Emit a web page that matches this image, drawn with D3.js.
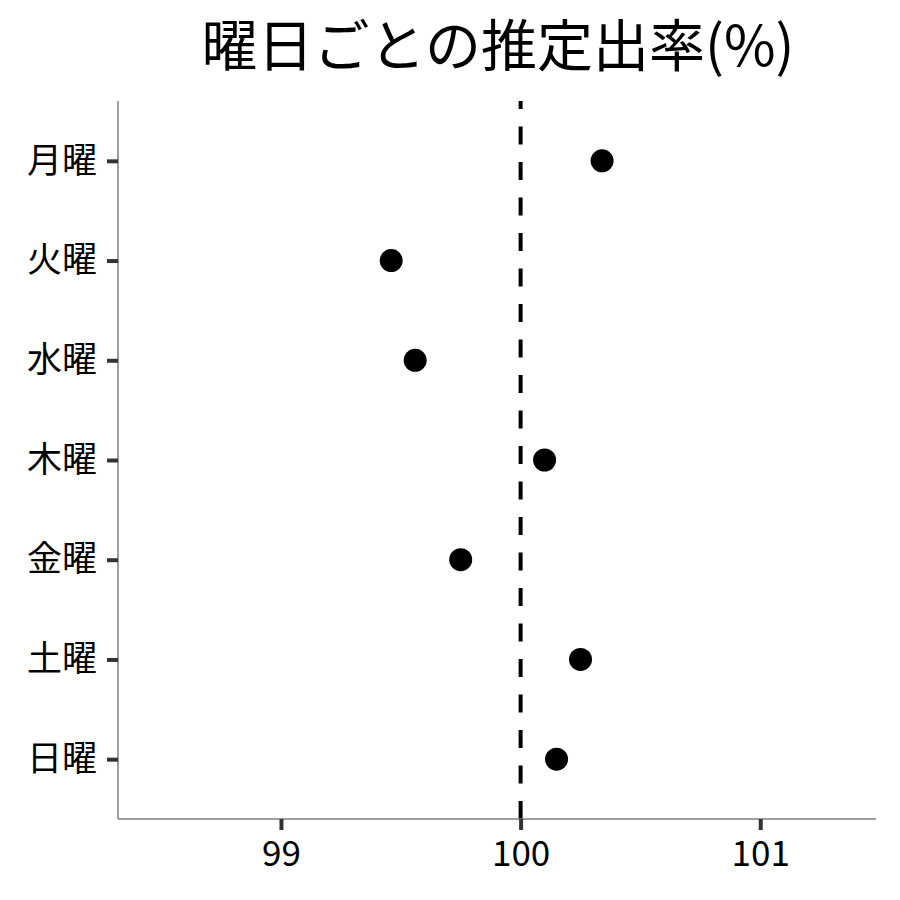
<!DOCTYPE html>
<html>
<head>
<meta charset="utf-8">
<script src="https://cdn.jsdelivr.net/npm/d3@7"></script>
<style>
  body { margin: 0; background: #fff; }
  text { font-family: "Noto Sans CJK JP", "Noto Sans", sans-serif; }
</style>
</head>
<body>
<div id="chart"></div>
<script>
// data
const days = ["月曜", "火曜", "水曜", "木曜", "金曜", "土曜", "日曜"];
const rates = [100.34, 99.46, 99.56, 100.10, 99.75, 100.25, 100.15];
const xTicks = [99, 100, 101];
const refValue = 100;
const title = "曜日ごとの推定出率(%)";

const width = 900, height = 900;
const margin = {top: 101, right: 24, bottom: 81, left: 118};

const svg = d3.select("#chart").append("svg")
    .attr("width", width)
    .attr("height", height);

const x = d3.scaleLinear()
    .domain([98.32, 101.483])
    .range([margin.left, width - margin.right]);

const y = d3.scalePoint()
    .domain(days)
    .range([margin.top, height - margin.bottom])
    .padding(0.6);

// title
svg.append("text")
    .attr("x", 498)
    .attr("y", 66)
    .attr("text-anchor", "middle")
    .style("font-size", "56px")
    .style("fill", "#000")
    .text(title);

// reference line
svg.append("line")
    .attr("x1", x(refValue))
    .attr("x2", x(refValue))
    .attr("y1", margin.top)
    .attr("y2", height - margin.bottom)
    .attr("stroke", "#000")
    .attr("stroke-width", 4)
    .attr("stroke-dasharray", "18,17.5")
    .attr("stroke-dashoffset", 10);

// x axis
const xAxis = svg.append("g")
    .attr("transform", `translate(0,${height - margin.bottom})`)
    .call(d3.axisBottom(x).tickValues(xTicks).tickSize(11).tickPadding(11).tickFormat(d3.format("d")));

// y axis
const yAxis = svg.append("g")
    .attr("transform", `translate(${margin.left},0)`)
    .call(d3.axisLeft(y).tickSize(11).tickPadding(10));

[xAxis, yAxis].forEach(g => {
    g.select(".domain").attr("stroke", "#7f7f7f").attr("stroke-width", 1.5)
        .attr("d", g === xAxis
            ? `M${margin.left},0H${width - margin.right}`
            : `M0,${margin.top}V${height - margin.bottom}`);
    g.selectAll(".tick line").attr("stroke", "#333").attr("stroke-width", 4);
    g.selectAll(".tick text")
        .style("font-family", '"Noto Sans CJK JP", sans-serif')
        .style("font-size", "35px")
        .style("fill", "#000");
});

// points
svg.selectAll(".dot")
    .data(days)
    .enter().append("circle")
    .attr("class", "dot")
    .attr("cx", (d, i) => x(rates[i]))
    .attr("cy", d => y(d))
    .attr("r", 11.5)
    .attr("fill", "#000");
</script>
</body>
</html>
